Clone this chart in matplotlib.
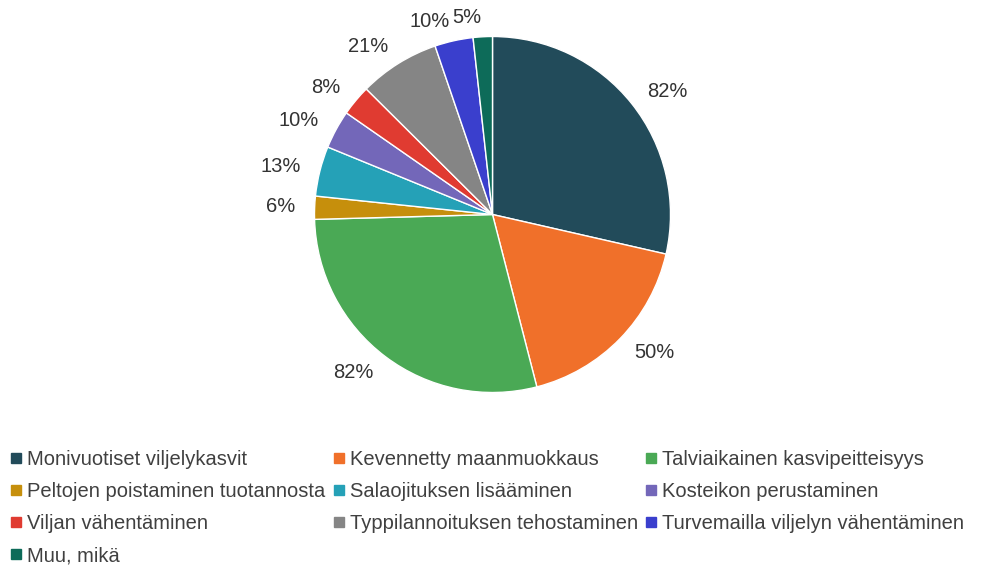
import matplotlib.pyplot as plt
from matplotlib.lines import Line2D

plt.rcParams['font.family'] = ['Liberation Sans', 'DejaVu Sans']

categories = [
    'Monivuotiset viljelykasvit', 'Kevennetty maanmuokkaus', 'Talviaikainen kasvipeitteisyys',
    'Peltojen poistaminen tuotannosta', 'Salaojituksen lisääminen', 'Kosteikon perustaminen',
    'Viljan vähentäminen', 'Typpilannoituksen tehostaminen', 'Turvemailla viljelyn vähentäminen',
    'Muu, mikä',
]
values = [82, 50, 82, 6, 13, 10, 8, 21, 10, 5]
labels = [f'{v}%' for v in values]
colors = ['#224b5a', '#f0702a', '#4aa955', '#c68f0c', '#25a1b7', '#7367b9',
          '#e03b31', '#858585', '#3a3fcd', '#0d6b59']

W, H = 982, 567
fig = plt.figure(figsize=(W / 100, H / 100), dpi=100)

# pie axes: center (492.5, 214.5) px from top, radius 178 px
r = 178
cx, cy = 492.5, H - 214.5
ax = fig.add_axes([(cx - r) / W, (cy - r) / H, 2 * r / W, 2 * r / H])
ax.pie(values, labels=labels, colors=colors, startangle=90, counterclock=False,
       labeldistance=1.11, radius=1,
       wedgeprops=dict(edgecolor='white', linewidth=1),
       textprops=dict(fontsize=14.5, color='#333333'))
ax.set_xlim(-1, 1)
ax.set_ylim(-1, 1)

# legend filled row by row, like the original
handles = [Line2D([], [], marker='s', linestyle='none', markersize=6.5,
                  markerfacecolor=c, markeredgecolor=c) for c in colors]
order = [0, 3, 6, 9, 1, 4, 7, 2, 5, 8]
fig.legend([handles[i] for i in order], [categories[i] for i in order],
           ncol=3, loc='upper left', bbox_to_anchor=(3 / W, 1 - 442 / H),
           frameon=False, fontsize=14.5, labelcolor='#404040',
           handlelength=0.5, handletextpad=0.3, columnspacing=0.4,
           labelspacing=0.65, borderaxespad=0)

fig.savefig('out.png', dpi=100)
